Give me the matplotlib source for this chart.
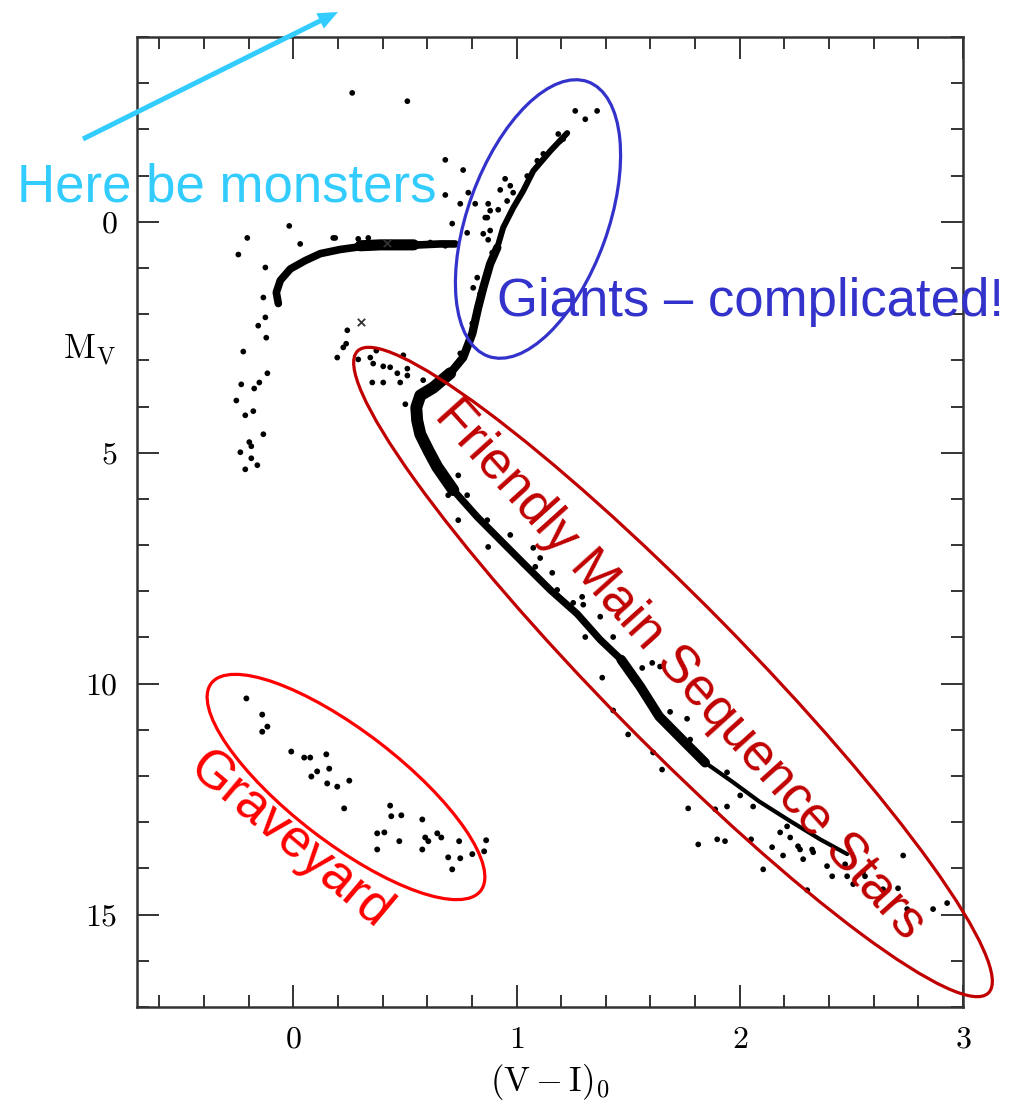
import matplotlib
matplotlib.use('Agg')
import matplotlib.pyplot as plt
from matplotlib.patches import Ellipse
from matplotlib.ticker import MultipleLocator

plt.rcParams['mathtext.fontset'] = 'cm'
plt.rcParams['axes.formatter.use_mathtext'] = True

# ridge lines of the crowded sequences: (V-I)_0 colour, M_V magnitude
rgb_top_vi = [1.227, 1.151, 1.075, 1.030, 0.985, 0.940, 0.914]
rgb_top_mv = [-1.92, -1.53, -1.10, -0.67, -0.30, 0.13, 0.56]
rgb_low_vi = [0.914, 0.882, 0.851, 0.828, 0.802, 0.761, 0.703]
rgb_low_mv = [0.56, 0.91, 1.43, 1.86, 2.42, 2.94, 3.28]
turnoff_vi = [0.703, 0.627, 0.569, 0.551, 0.555, 0.569, 0.605, 0.645, 0.717]
turnoff_mv = [3.28, 3.59, 3.76, 4.02, 4.30, 4.60, 4.95, 5.31, 5.81]
ms_mid_vi = [0.717, 0.824, 0.927, 1.030, 1.151, 1.272, 1.375, 1.469]
ms_mid_mv = [5.81, 6.39, 6.89, 7.39, 7.97, 8.49, 9.05, 9.48]
ms_steep_vi = [1.469, 1.554, 1.639, 1.760, 1.845]
ms_steep_mv = [9.48, 10.06, 10.71, 11.30, 11.71]
ms_low_vi = [1.845, 1.966, 2.087, 2.221, 2.360, 2.481]
ms_low_mv = [11.71, 12.12, 12.55, 12.96, 13.37, 13.69]
hb_vi = [-0.067, -0.076, -0.058, -0.013, 0.054, 0.121, 0.210, 0.300, 0.390, 0.479, 0.569, 0.658, 0.725]
hb_mv = [1.77, 1.53, 1.27, 1.02, 0.84, 0.69, 0.60, 0.54, 0.50, 0.50, 0.50, 0.48, 0.48]
clump_vi = [0.300, 0.390, 0.479, 0.540]
clump_mv = [0.52, 0.50, 0.50, 0.50]

# individual stars
field_vi = [0.264, 0.511, 0.681, 0.761, 0.681, 0.784, 0.748, 0.815, 0.873, 0.712,
            0.779, 0.869, 0.882, 0.918, 0.949, 0.927, 0.873, 0.806, -0.018, -0.206,
            -0.246, 0.188, 0.031, 1.361, 1.308, 1.263, 1.196, 0.972,
            1.048, 1.093, 1.120, 1.187, 1.209, 0.985, 0.958, 0.882, 0.860, 0.851,
            0.891, 0.824, 0.837, 0.824, 0.802, 0.748,
            0.179, 0.291, 0.336, 0.448, 0.555, 0.614, 0.681,
            -0.125, -0.134, -0.125, -0.157, -0.121, -0.224, -0.116, -0.152, -0.233,
            -0.175, -0.255, -0.179, -0.215, -0.134, -0.197, -0.188, -0.237, -0.188,
            -0.161, -0.215,
            0.242, 0.237, 0.224, 0.197, 0.291, 0.372, 0.345, 0.358, 0.403, 0.434,
            0.493, 0.511, 0.354, 0.403, 0.466, 0.479, 0.502, 0.582, 0.511,
            0.739, 0.694, 0.779, 0.739, 0.869, 0.873, 0.972, 1.075, 1.106, 1.084,
            1.160, 1.182, 1.294, 1.299, 1.254, 1.375, 1.433, 1.308,
            1.384, 1.433, 1.500, 1.563, 1.608, 1.643, 1.688, 1.764, 1.778, 1.612,
            1.652, 1.769, 1.814, 1.899, 1.934, 1.943, 2.002, 2.051, 2.145, 2.194,
            2.060, 1.943, 2.261, 2.329, 2.391, 2.472, 2.552, 1.890, 2.181, 2.212,
            2.105, 2.284, 2.324, 2.414, 2.481, 2.302, 2.508, 2.561, 2.642, 2.709,
            2.732, 2.750, 2.866, 2.929, 2.226, 2.270]
field_mv = [-2.79, -2.61, -1.34, -1.12, -0.58, -0.63, -0.39, -0.39, -0.39, 0.04,
            0.24, -0.09, 0.19, -0.26, -0.93, -0.69, 0.39, 1.43, 0.09, 0.35,
            0.71, 0.35, 0.48, -2.40, -2.22, -2.40, -1.75, -0.78,
            -0.99, -1.32, -1.47, -1.90, -1.79, -0.63, -0.45, -0.24, -0.09, 0.26,
            0.67, 1.21, 1.56, 1.99, 2.20, 2.85,
            0.35, 0.37, 0.35, 0.52, 0.52, 0.45, 0.52,
            0.99, 1.64, 2.07, 2.25, 2.51, 2.81, 3.28, 3.48, 3.52,
            3.61, 3.87, 4.10, 4.19, 4.60, 4.77, 4.86, 4.99, 5.12,
            5.27, 5.36,
            2.35, 2.64, 2.72, 2.94, 2.98, 2.79, 2.94, 3.07, 3.13, 3.15,
            2.89, 3.18, 3.48, 3.48, 3.28, 3.48, 3.95, 3.43, 3.33,
            5.49, 5.92, 5.92, 6.46, 6.46, 7.04, 6.78, 7.06, 7.28, 7.47,
            7.60, 7.97, 8.12, 8.29, 8.25, 8.55, 8.99, 8.99,
            9.87, 10.58, 11.10, 9.66, 9.55, 9.63, 10.61, 10.76, 11.21, 11.49,
            11.86, 12.70, 13.48, 13.37, 13.41, 11.92, 12.42, 13.37, 13.54, 13.72,
            12.66, 12.66, 13.52, 13.65, 13.95, 13.91, 14.08, 12.72, 13.22, 13.09,
            14.02, 13.80, 13.59, 14.17, 14.17, 14.47, 14.34, 14.17, 14.45, 14.43,
            13.72, 14.88, 14.88, 14.75, 13.33, 13.59]
cross_vi = [0.305, 0.42]
cross_mv = [2.18, 0.45]

# white dwarfs
wd_vi = [-0.210, -0.139, -0.139, -0.116, -0.009, 0.049, 0.076, 0.148, 0.161, 0.107,
         0.081, 0.152, 0.197, 0.251, 0.228, 0.434, 0.439, 0.484, 0.376, 0.408,
         0.376, 0.475, 0.578, 0.591, 0.605, 0.578, 0.645, 0.663, 0.743, 0.694,
         0.748, 0.712, 0.802, 0.855, 0.864]
wd_mv = [10.32, 10.67, 11.04, 10.93, 11.47, 11.60, 11.60, 11.53, 11.84, 11.90,
         12.01, 12.16, 12.23, 12.10, 12.70, 12.64, 12.87, 12.85, 13.24, 13.22,
         13.59, 13.41, 12.94, 13.33, 13.41, 13.59, 13.24, 13.33, 13.41, 13.76,
         13.78, 14.02, 13.69, 13.63, 13.39]

W, H = 1011, 1107
fig = plt.figure(figsize=(W / 100, H / 100), dpi=100)
ax = fig.add_axes([137 / W, 100 / H, 826 / W, 970 / H])

band = dict(color='black', solid_capstyle='round', solid_joinstyle='round', zorder=2)
ax.plot(rgb_top_vi, rgb_top_mv, lw=4.3, **band)
ax.plot(rgb_low_vi, rgb_low_mv, lw=6.0, **band)
ax.plot(turnoff_vi, turnoff_mv, lw=8.6, **band)
ax.plot(ms_mid_vi, ms_mid_mv, lw=5.2, **band)
ax.plot(ms_steep_vi, ms_steep_mv, lw=7.0, **band)
ax.plot(ms_low_vi, ms_low_mv, lw=3.0, **band)
ax.plot(hb_vi, hb_mv, lw=5.5, **band)
ax.plot(clump_vi, clump_mv, lw=8.0, **band)

ax.scatter(field_vi, field_mv, s=17, c='black', edgecolors='none', zorder=3)
ax.scatter(wd_vi, wd_mv, s=18, c='black', edgecolors='none', zorder=3)
ax.scatter(cross_vi, cross_mv, s=28, marker='x', c='#333333', linewidths=1.3, zorder=3)

ax.set_xlim(-0.7, 3.0)
ax.set_ylim(17, -4)
ax.xaxis.set_major_locator(MultipleLocator(1))
ax.xaxis.set_minor_locator(MultipleLocator(0.2))
ax.yaxis.set_major_locator(MultipleLocator(5))
ax.yaxis.set_minor_locator(MultipleLocator(1))
ax.tick_params(which='both', direction='in', top=True, right=True,
               color='#333333', width=1.4)
ax.tick_params(which='major', length=15.5, pad=14, labelsize=23)
ax.tick_params(which='minor', length=8.4)
for lab in ax.get_xticklabels() + ax.get_yticklabels():
    lab.set_fontfamily('cmr10')
for sp in ax.spines.values():
    sp.set_color('#333333')
    sp.set_linewidth(1.8)

ax.set_xlabel(r'$\mathrm{(V-I)_0}$', fontsize=25, labelpad=6)
ax.set_ylabel(r'$\mathrm{M_V}$', fontsize=25, rotation=0, va='center', ha='center')
ax.yaxis.set_label_coords(-0.057, 0.677)

# annotation layer in figure pixels
ov = fig.add_axes([0, 0, 1, 1], zorder=5)
ov.set_xlim(0, W)
ov.set_ylim(H, 0)
ov.axis('off')
ov.patch.set_alpha(0)

ov.add_patch(Ellipse((538, 219), 292, 140, angle=-70, fill=False,
                     ec='#3333CC', lw=2.3, clip_on=False))
ov.add_patch(Ellipse((673, 672), 900, 140, angle=45.5, fill=False,
                     ec='#C00000', lw=2.3, clip_on=False))
ov.add_patch(Ellipse((346, 787), 340, 111, angle=37.6, fill=False,
                     ec='#FF0000', lw=2.3, clip_on=False))

ov.arrow(83, 139, 255, -127, width=5, head_width=17, head_length=20,
         length_includes_head=True, color='#33CCFF', lw=0)

font = ['Liberation Sans', 'DejaVu Sans']
ov.text(17, 201, 'Here be monsters', color='#33CCFF', fontsize=38,
        family=font, ha='left', va='baseline')
ov.text(497, 316, 'Giants \u2013 complicated!', color='#3333CC', fontsize=38,
        family=font, ha='left', va='baseline')
ov.text(680, 670, 'Friendly Main Sequence Stars', color='#C00000', fontsize=38,
        family=font, ha='center', va='center', rotation=-48, rotation_mode='anchor')
ov.text(290, 840, 'Graveyard', color='#FF0000', fontsize=38,
        family=font, ha='center', va='center', rotation=-40, rotation_mode='anchor')

fig.savefig('out.png', dpi=100)
